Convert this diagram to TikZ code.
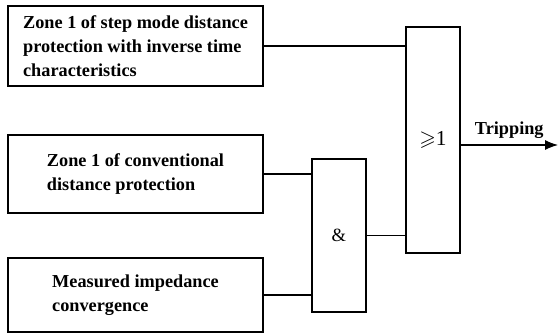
\documentclass[tikz,border=0pt]{standalone}
\usepackage{amssymb}
\usepackage{fontspec}
\setmainfont{Liberation Serif}
\usetikzlibrary{arrows.meta}
\begin{document}
\begin{tikzpicture}[x=0.75pt,y=-0.75pt,
  every node/.style={line width=0.8pt},
  inbox/.style={draw, align=left, inner sep=0pt, minimum width=191.25pt,
    font=\fontsize{13.7pt}{17.8pt}\selectfont\bfseries},
  gate/.style={draw, inner sep=0pt, minimum width=40.5pt},
  wire/.style={line width=0.8pt}]
\useasboundingbox (0,0) rectangle (558,336);
\node[inbox, minimum height=60pt] (b1) at (135.5,46) {Zone 1 of step mode distance\\protection with inverse time\\characteristics};
\node[inbox, minimum height=58.5pt] (b2) at (135.5,174) {Zone 1 of conventional\\distance protection};
\node[inbox, minimum height=55.5pt] (b3) at (135.5,295) {Measured impedance\\convergence};
\node[gate, minimum height=169.5pt, font=\fontsize{16pt}{18pt}\selectfont] (or) at (433,140) {$\geqslant$1};
\node[gate, minimum height=114.75pt, font=\fontsize{14pt}{16pt}\selectfont] (and) at (339,235.5) {\&};
\coordinate (out) at (558,145);
\draw[wire] (b1.east) -- (b1.east -| or.west);
\draw[wire] (b2.east) -- (b2.east -| and.west);
\draw[wire] (b3.east) -- (b3.east -| and.west);
\draw[wire] (and.east) -- (and.east -| or.west);
\draw[wire, -{Latex[length=9.75pt,width=7.5pt]}] (out -| or.east) -- node[midway, above=1pt, font=\fontsize{13.7pt}{15pt}\selectfont\bfseries] (trip) {Tripping} (out);
\end{tikzpicture}
\end{document}
